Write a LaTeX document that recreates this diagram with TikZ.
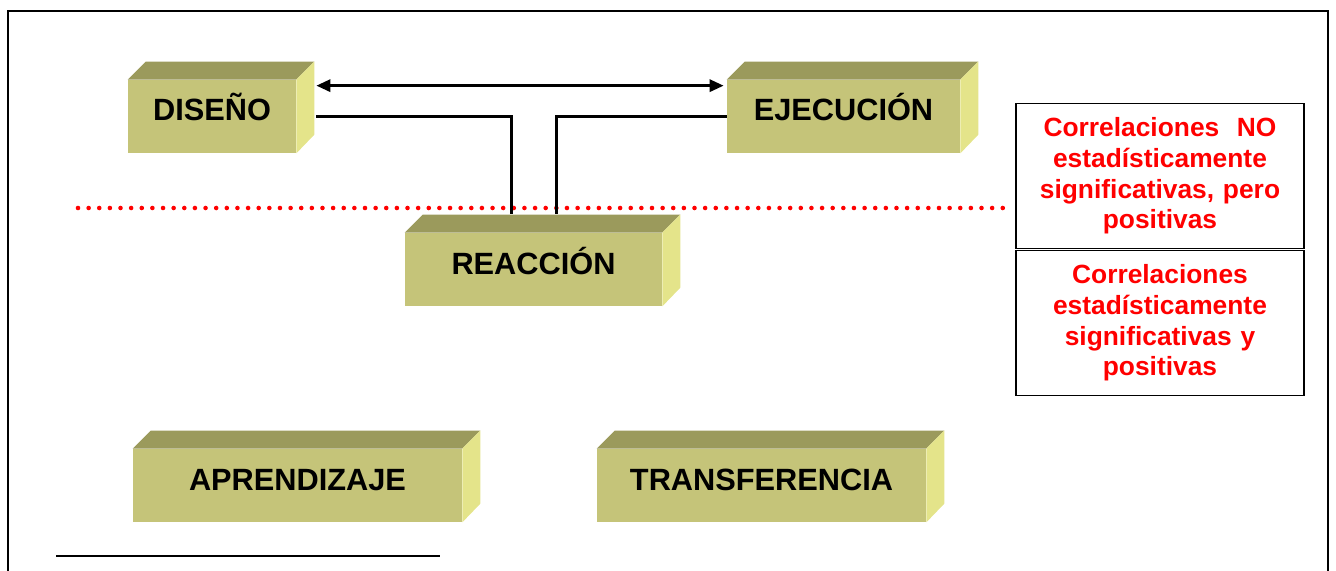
\documentclass[tikz,border=0pt]{standalone}
\usepackage{fontspec}
\setmainfont{Liberation Sans}
\usepackage{xcolor}
\usepackage{tikz}
\usetikzlibrary{positioning,calc,arrows.meta}

\definecolor{frontc}{RGB}{197,196,121}
\definecolor{topc}{RGB}{155,154,92}
\definecolor{sidec}{RGB}{228,228,138}

\tikzset{
  blok/.style={fill=frontc,inner sep=0pt,minimum height=1.46cm,
    text height=0.44cm,text depth=0.26cm,
    font=\fontsize{17.5}{21}\selectfont\bfseries},
  corr/.style={draw=black,line width=1.1pt,inner sep=0pt,
    minimum width=5.76cm,minimum height=2.9cm,text width=5.7cm,align=center,
    text=red,font=\fontsize{15}{17.5}\selectfont\bfseries},
  link/.style={black,line width=1.7pt}
}

\begin{document}
\begin{tikzpicture}[x=0.02cm,y=-0.02cm]
\useasboundingbox (0,0) rectangle (1336,571);
\draw[line width=1.1pt] (8,571) -- (8,11) -- (1328,11) -- (1328,571);

% the five boxes
\node[blok,minimum width=3.36cm] (dis) at (212,116.5) {DISEÑO};
\node[blok,minimum width=4.66cm] (eje) at (843.5,116.5) {EJECUCIÓN};
\node[blok,minimum width=5.14cm] (rea) at (533.5,269.5) {REACCIÓN};
\node[blok,minimum width=6.58cm] (apr) at (297.5,485.5) {APRENDIZAJE};
\node[blok,minimum width=6.58cm] (tra) at (761.5,485.5) {TRANSFERENCIA};

\foreach \n in {dis,eje,rea,apr,tra}
{
\fill[topc] (\n.north west) -- ++(18,-18) -- ($(\n.north east)+(18,-18)$) -- (\n.north east) -- cycle;
\fill[sidec] (\n.north east) -- ++(18,-18) -- ++(0,73) -- (\n.south east) -- cycle;
}

% legend
\node[corr] (nosig) at (1160,176) {Correlaciones~ NO\\estadísticamente\\significativas, pero\\positivas};
\node[corr] (sig) at (1160,323) {Correlaciones\\estadísticamente\\significativas y\\positivas};

\draw[red,line width=2.6pt,line cap=round,dash pattern=on 0pt off 6.05pt] (78,208) -- (1010,208);

% connections
\draw[link,{Triangle[length=0.28cm,width=0.24cm]}-{Triangle[length=0.28cm,width=0.24cm]}]
  ($(dis.north east)+(20,6)$) -- ($(eje.north west)+(-3,6)$);
\draw[link] ($(dis.east)+(20,0)$) -| ($(rea.north west)+(107,-19)$);
\draw[link] (eje.west) -| ($(rea.north west)+(152,-19)$);

\draw[line width=0.9pt] (56,556) -- (440,556);
\end{tikzpicture}
\end{document}
